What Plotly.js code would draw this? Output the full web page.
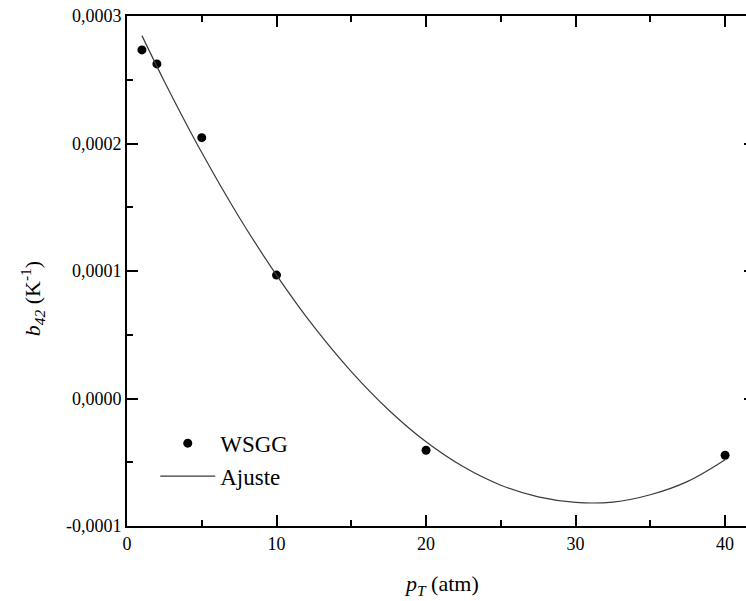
<!DOCTYPE html>
<html>
<head>
<meta charset="utf-8">
<script src="https://cdn.plot.ly/plotly-3.0.1.min.js"></script>
<style>
html, body { margin: 0; padding: 0; overflow: hidden; width: 746px; height: 601px; background: #fff; }
#chart { width: 760px; height: 601px; }
</style>
</head>
<body>
<div id="chart"></div>
<script>
// WSGG data points
const pressure = [1, 2, 5, 10, 20, 40];
const b42 = [0.0002734, 0.0002624, 0.0002046, 0.0000968, -0.0000406, -0.0000445];

// Fit curve
const fitP = [1, 2.5, 5, 7.5, 10, 12.5, 15, 17.5, 20, 22.5, 25, 27.5, 30, 32.5, 35, 37.5, 40];
const fitB = [0.0002846, 0.0002487, 0.0001929, 0.0001422, 0.0000968, 0.0000563, 0.0000211, -0.0000090,
              -0.0000340, -0.0000536, -0.0000680, -0.0000772, -0.0000815, -0.0000812, -0.0000755, -0.0000650, -0.0000480];

// Tick labels
const yTickVals = [-0.0001, 0.0000, 0.0001, 0.0002, 0.0003];
const yTickText = ['-0,0001', '0,0000', '0,0001', '0,0002', '0,0003'];
const xTickVals = [0, 10, 20, 30, 40];
const xTickText = ['0', '10', '20', '30', '40'];

const font = 'Liberation Serif, Times New Roman, serif';

const traces = [
  {
    x: pressure, y: b42, type: 'scatter', mode: 'markers', name: 'WSGG',
    marker: { color: '#000', size: 9 }
  },
  {
    x: fitP, y: fitB, type: 'scatter', mode: 'lines', name: 'Ajuste',
    line: { color: '#3a3a3a', width: 1.2, shape: 'spline' }
  }
];

const layout = {
  width: 760, height: 601,
  margin: { l: 126.5, r: 5, t: 16, b: 75.3 },
  paper_bgcolor: '#fff', plot_bgcolor: '#fff',
  font: { family: font, color: '#000', size: 18 },
  showlegend: true,
  legend: {
    x: 0.045, y: 0.13, xanchor: 'left', yanchor: 'middle',
    bgcolor: 'rgba(0,0,0,0)', font: { family: font, size: 23, color: '#000' },
    itemwidth: 55, tracegroupgap: 0
  },
  xaxis: {
    range: [0, 42], showgrid: false, zeroline: false,
    showline: true, linecolor: '#000', linewidth: 2, mirror: 'allticks',
    ticks: 'inside', ticklen: 11, tickwidth: 2, tickcolor: '#000',
    tickmode: 'array', tickvals: xTickVals, ticktext: xTickText,
    tickfont: { family: font, size: 18, color: '#000' },
    minor: { tickmode: 'linear', tick0: 0, dtick: 5, ticklen: 6, tickwidth: 2, tickcolor: '#000', ticks: 'inside' }
  },
  yaxis: {
    range: [-0.0001, 0.0003], showgrid: false, zeroline: false,
    showline: true, linecolor: '#000', linewidth: 2, mirror: 'allticks',
    ticks: 'inside', ticklen: 11, tickwidth: 2, tickcolor: '#000',
    tickmode: 'array', tickvals: yTickVals, ticktext: yTickText,
    tickfont: { family: font, size: 18, color: '#000' },
    minor: { tickmode: 'linear', tick0: 0, dtick: 0.00005, ticklen: 6, tickwidth: 2, tickcolor: '#000', ticks: 'inside' }
  },
  annotations: [
    {
      xref: 'paper', yref: 'paper', x: -0.151, y: 0.445, xanchor: 'center', yanchor: 'middle',
      text: '<i>b</i><sub><i>42</i></sub> (K<sup>-1</sup>)', textangle: -90, showarrow: false,
      font: { family: font, size: 22, color: '#000' }
    },
    {
      xref: 'paper', yref: 'paper', x: 0.5, y: -0.116, xanchor: 'center', yanchor: 'middle',
      text: '<i>p</i><sub><i>T</i></sub> (atm)', showarrow: false,
      font: { family: font, size: 22, color: '#000' }
    }
  ]
};

Plotly.newPlot('chart', traces, layout, { displayModeBar: false, staticPlot: true });
</script>
</body>
</html>
